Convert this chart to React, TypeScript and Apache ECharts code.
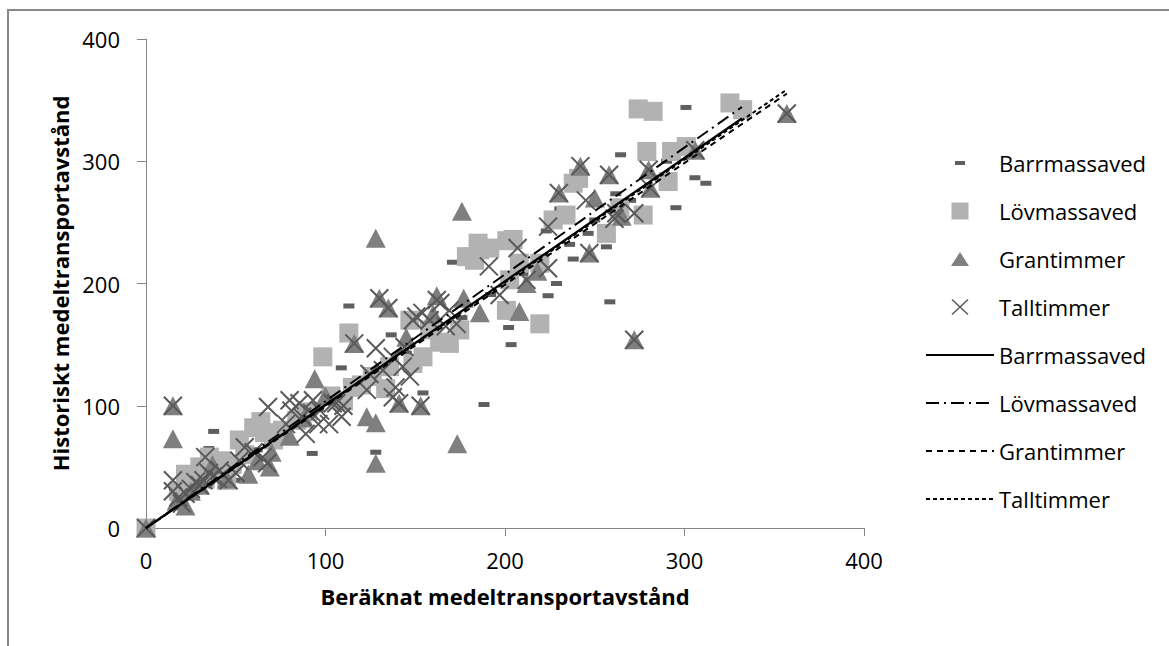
import React, { useEffect, useRef } from "react";
import * as echarts from "echarts";

const FONT = "'Open Sans', 'Noto Sans', sans-serif";
const TREND = "#trend";

const xTicks = [0, 400, 100];
const yTicks = [0, 400, 100];

const seriesNames = ["Barrmassaved", "Lövmassaved", "Grantimmer", "Talltimmer"];

const barrmassaved: number[][] = [
  [0, 0], [20, 26], [35, 65], [37.7, 79], [51, 39], [45, 49], [62, 64], [78, 80], [92.6, 61], [96, 97],
  [108.8, 131], [113, 181.6], [120, 121], [128, 62], [136.6, 158], [145, 143], [154.3, 110.5], [160, 160],
  [170.7, 217.4], [176, 172], [188.3, 101], [192, 191], [203.4, 150], [202, 164], [210, 208], [224, 190],
  [228.7, 200], [223, 243], [230.5, 261], [238, 220], [236, 232], [246.3, 241], [256.5, 230], [258.4, 185],
  [250, 252], [261.7, 273.4], [264.4, 305.3], [270, 268], [290, 300], [295.2, 262], [300.8, 344],
  [305.8, 286.5], [311.9, 282], [285, 287], [332, 338],
];

const lovmassaved: number[][] = [
  [0, 0], [18, 30], [22, 44], [25, 35], [27.5, 42], [30, 50], [33, 40], [35.3, 58], [38, 47], [42, 55],
  [45, 39], [48, 52], [52, 72], [55, 60], [60, 82], [64, 87], [66, 78], [71, 72], [76, 80], [84, 88],
  [90, 95], [98.5, 140], [103, 108], [110, 104], [115, 115], [120, 117], [113, 159.5], [126, 124],
  [133.5, 114], [135.7, 132], [148.7, 134.6], [154.3, 140], [147, 170], [158, 162], [163.6, 152],
  [169, 151], [174.8, 162], [178.5, 222], [183, 219], [185.9, 227.5], [191.5, 229], [185, 233], [201, 235],
  [204.5, 236], [208, 216.6], [202.6, 203], [200.8, 178], [219.4, 167], [219.4, 216.6], [226.8, 252],
  [234, 256], [238, 282], [241, 286], [256.5, 241], [264, 262], [277, 256], [274.2, 342.8], [282.5, 340.8],
  [279, 308], [292.8, 308], [301, 312], [290.9, 283.4], [325.3, 347.7], [332.4, 342.2],
];

const grantimmer: number[][] = [
  [0, 0], [15, 100], [15, 73], [17, 22], [22, 18], [25, 30], [30, 35], [37, 52], [45, 40], [57, 44],
  [62, 55], [69, 50], [70, 62], [80, 75], [88, 90], [94, 122], [100, 108], [116, 151], [123, 91], [128, 86],
  [128, 53], [128, 237], [130, 188], [135, 180], [141, 102], [145, 156], [153, 100], [160, 175], [162, 190],
  [173.4, 69], [176, 259], [177, 188], [186, 176], [208, 177], [212, 200], [218, 210], [230, 274],
  [242, 296], [247, 225], [250, 270], [258, 289], [265, 255], [272, 154], [280, 293], [281, 278],
  [306, 309], [357, 339],
];

const talltimmer: number[][] = [
  [0, 0], [15, 100], [15, 39], [15, 30], [18, 25], [20, 20], [22, 28], [25, 32], [27.5, 37.5], [30, 35],
  [32, 39], [33, 58], [35, 45], [37, 42], [40, 40], [41, 47], [46, 39], [50, 45], [52, 55], [55, 66],
  [60, 62], [65, 58], [67.5, 53], [68, 99], [78, 85], [80, 104.5], [81, 96], [85.5, 102], [87, 91], [89, 77],
  [92.6, 94], [93, 104.5], [96, 85], [97, 96], [102, 85], [104, 102], [106, 102], [109, 91], [110, 100],
  [116, 151], [123, 113], [124.5, 126], [128, 147], [130, 188], [132, 129], [135, 180], [137.5, 140],
  [137.5, 107], [139, 115], [141, 102], [143, 132], [144, 148], [147, 124], [148.7, 170], [150.6, 173],
  [153, 100], [154, 176], [158, 170], [162, 186.5], [164, 184], [167, 165], [169, 178], [173, 167],
  [191, 214], [197, 190.6], [207, 229], [212, 203], [224, 212.5], [224, 246.5], [230, 274], [242, 296],
  [245, 268], [247, 225], [258, 289], [261, 253], [262, 257.5], [272, 257.5], [272, 154], [280, 293],
  [281, 278], [306, 309], [357, 339],
];

const trendBarr: number[][] = [[0, 0], [332, 335]];
const trendLov: number[][] = [[0, 0], [332, 344.4]];
const trendGran: number[][] = [[0, 0], [357, 355.3]];
const trendTall: number[][] = [[0, 0], [357, 358.6]];

const DASH_COLOR = "#5f5f5f";
const SQUARE_COLOR = "#b2b2b2";
const TRI_COLOR = "#7f7f7f";
const X_COLOR = "#595959";

export default function App() {
  const ref = useRef<HTMLDivElement>(null);
  useEffect(() => {
    if (!ref.current) return;
    const chart = echarts.init(ref.current, undefined, { renderer: "svg" });
    const axisCommon = {
      type: "value" as const,
      axisLine: { show: true, lineStyle: { color: "#868686", width: 1 } },
      splitLine: { show: false },
      nameLocation: "middle" as const,
      nameTextStyle: { fontFamily: FONT, fontSize: 22, fontWeight: "bold" as const, color: "#000" },
    };
    const lineSeries = (name: string, data: number[][], type: any, width: number) => ({
      name: name + TREND,
      type: "line",
      data,
      symbol: "none",
      silent: true,
      z: 5,
      lineStyle: { color: "#000", width, type },
      emphasis: { disabled: true },
    });
    chart.setOption({
      animation: false,
      backgroundColor: "#fff",
      graphic: [
        {
          type: "rect",
          silent: true,
          z: -10,
          shape: { x: 8, y: 10, width: 1300, height: 1000 },
          style: { fill: "none", stroke: "#878787", lineWidth: 2 },
        },
      ],
      grid: { left: 146, right: 305, top: 39, bottom: 118 },
      xAxis: {
        ...axisCommon,
        min: xTicks[0],
        max: xTicks[1],
        interval: xTicks[2],
        axisTick: { show: true, length: 8, lineStyle: { color: "#868686" } },
        axisLabel: { color: "#000", fontFamily: FONT, fontSize: 22, margin: 21 },
        name: "Beräknat medeltransportavstånd",
        nameGap: 57,
      },
      yAxis: {
        ...axisCommon,
        min: yTicks[0],
        max: yTicks[1],
        interval: yTicks[2],
        axisTick: { show: true, length: 9, lineStyle: { color: "#868686" } },
        axisLabel: { color: "#000", fontFamily: FONT, fontSize: 22, margin: 26 },
        name: "Historiskt medeltransportavstånd",
        nameGap: 47,
      },
      legend: {
        orient: "vertical",
        left: 925,
        top: 152,
        padding: 0,
        itemWidth: 68,
        itemHeight: 18,
        itemGap: 26,
        selectedMode: false,
        textStyle: { fontFamily: FONT, fontSize: 22, color: "#000", lineHeight: 22 },
        formatter: (n: string) => n.replace(TREND, ""),
        data: [
          {
            name: seriesNames[0],
            icon: "path://M0,0M68,18M29,7h10v4h-10z",
            itemStyle: { color: DASH_COLOR, borderWidth: 0 },
          },
          {
            name: seriesNames[1],
            icon: "path://M0,0M68,18M25.5,0.5h17v17h-17z",
            itemStyle: { color: SQUARE_COLOR, borderWidth: 0 },
          },
          {
            name: seriesNames[2],
            icon: "path://M0,0M68,18M34,2L43,16L25,16z",
            itemStyle: { color: TRI_COLOR, borderWidth: 0 },
          },
          {
            name: seriesNames[3],
            icon: "path://M0,0M68,18M26,1.5L42,16.5M42,1.5L26,16.5",
            itemStyle: { color: "transparent", borderColor: X_COLOR, borderWidth: 1.5 },
          },
          ...seriesNames.map((n) => ({
            name: n + TREND,
            itemStyle: { color: "transparent", borderColor: "transparent", borderWidth: 0 },
          })),
        ],
      },
      series: [
        {
          name: seriesNames[0],
          type: "scatter",
          data: barrmassaved,
          symbol: "rect",
          symbolSize: [11, 5],
          itemStyle: { color: DASH_COLOR, opacity: 1 },
          emphasis: { disabled: true },
          z: 2,
        },
        {
          name: seriesNames[1],
          type: "scatter",
          data: lovmassaved,
          symbol: "rect",
          symbolSize: [19, 19],
          itemStyle: { color: SQUARE_COLOR, opacity: 1 },
          emphasis: { disabled: true },
          z: 2,
        },
        {
          name: seriesNames[2],
          type: "scatter",
          data: grantimmer,
          symbol: "triangle",
          symbolSize: [20, 19],
          itemStyle: { color: TRI_COLOR, opacity: 1 },
          emphasis: { disabled: true },
          z: 2,
        },
        {
          name: seriesNames[3],
          type: "scatter",
          data: talltimmer,
          symbol: "path://M0,0L10,10M10,0L0,10",
          symbolSize: 18,
          itemStyle: { color: "transparent", borderColor: X_COLOR, borderWidth: 2, opacity: 1 },
          emphasis: { disabled: true },
          z: 2,
        },
        lineSeries(seriesNames[0], trendBarr, "solid", 2.25),
        lineSeries(seriesNames[1], trendLov, [13, 5, 2, 5], 2),
        lineSeries(seriesNames[2], trendGran, [6, 5], 2),
        lineSeries(seriesNames[3], trendTall, [4, 3], 2),
      ],
    });
    return () => chart.dispose();
  }, []);
  return (
    <div
      ref={ref}
      style={{ position: "fixed", left: 0, top: 0, width: 1169, height: 646, background: "#fff" }}
    />
  );
}
